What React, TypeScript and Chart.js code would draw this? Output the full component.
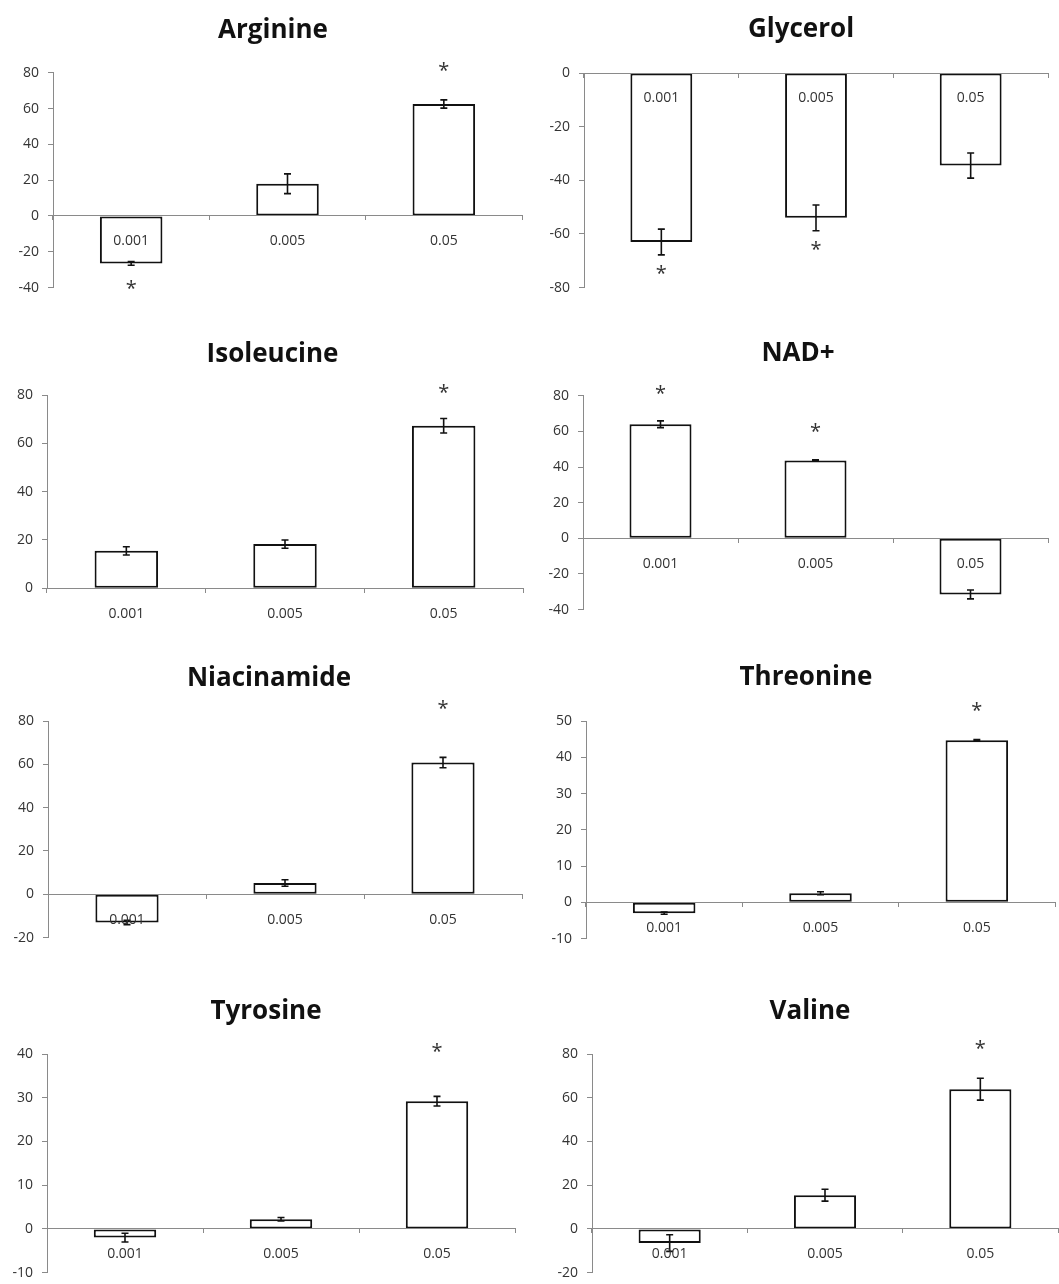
import React, { useEffect, useRef } from 'react';
import { Chart, registerables } from 'chart.js';

Chart.register(...registerables);

// ---------- DATA ----------
const categories = ['0.001', '0.005', '0.05'];

const arginineValues = [-26.5, 18, 62.5];
const arginineErrors = [1, 5.5, 2.3];
const arginineStars = [-37.5, null, 84];

const glycerolValues = [-63, -54, -34.5];
const glycerolErrors = [4.8, 4.8, 4.7];
const glycerolStars = [-73, -64, null];

const isoleucineValues = [15.5, 18.3, 67.3];
const isoleucineErrors = [1.7, 1.7, 3];
const isoleucineStars = [null, null, 83];

const nadValues = [64, 43.7, -31.5];
const nadErrors = [1.9, 0.3, 2.5];
const nadStars = [84.3, 63, null];

const niacinamideValues = [-13, 5.2, 60.8];
const niacinamideErrors = [1, 1.5, 2.4];
const niacinamideStars = [null, null, 88];

const threonineValues = [-3, 2.5, 44.7];
const threonineErrors = [0.3, 0.4, 0.2];
const threonineStars = [null, null, 54.4];

const tyrosineValues = [-2, 2.2, 29.2];
const tyrosineErrors = [1, 0.4, 1.1];
const tyrosineStars = [null, null, 41.8];

const valineValues = [-6.5, 15.4, 63.9];
const valineErrors = [3.8, 2.7, 5];
const valineStars = [null, null, 84.7];

// ---------- STYLE / LAYOUT ----------
const AXIS_COLOR = '#8a8a8a';
const TICK_COLOR = '#333333';
const FONT = "'Open Sans', 'Noto Sans', sans-serif";
const TITLE_SIZE = 26;
const STAR_SIZE = 20;

type Layout = {
  left: number; top: number; width: number;
  axisX: number; plotRight: number; titleX: number; titleMid: number;
  chartTop: number; chartBottom: number;
};

type Panel = {
  title: string; values: number[]; errors: number[]; stars: (number | null)[];
  min: number; max: number; step: number; layout: Layout;
};

const panels: Panel[] = [
  { title: 'Arginine', values: arginineValues, errors: arginineErrors, stars: arginineStars, min: -40, max: 80, step: 20,
    layout: { left: 0, top: 0, width: 530, axisX: 53, plotRight: 522, titleX: 273, titleMid: 30.3, chartTop: 72.7, chartBottom: 291 } },
  { title: 'Glycerol', values: glycerolValues, errors: glycerolErrors, stars: glycerolStars, min: -80, max: 0, step: 20,
    layout: { left: 530, top: 0, width: 529, axisX: 584, plotRight: 1048, titleX: 801, titleMid: 30, chartTop: 73, chartBottom: 291 } },
  { title: 'Isoleucine', values: isoleucineValues, errors: isoleucineErrors, stars: isoleucineStars, min: 0, max: 80, step: 20,
    layout: { left: 0, top: 315, width: 530, axisX: 47, plotRight: 523, titleX: 272.5, titleMid: 354.5, chartTop: 395, chartBottom: 588.3 } },
  { title: 'NAD+', values: nadValues, errors: nadErrors, stars: nadStars, min: -40, max: 80, step: 20,
    layout: { left: 530, top: 315, width: 529, axisX: 583, plotRight: 1048, titleX: 798, titleMid: 354, chartTop: 395.7, chartBottom: 612.7 } },
  { title: 'Niacinamide', values: niacinamideValues, errors: niacinamideErrors, stars: niacinamideStars, min: -20, max: 80, step: 20,
    layout: { left: 0, top: 635, width: 530, axisX: 48, plotRight: 522, titleX: 269, titleMid: 679, chartTop: 721, chartBottom: 941 } },
  { title: 'Threonine', values: threonineValues, errors: threonineErrors, stars: threonineStars, min: -10, max: 50, step: 10,
    layout: { left: 530, top: 635, width: 529, axisX: 586, plotRight: 1055, titleX: 806, titleMid: 678, chartTop: 721, chartBottom: 941.7 } },
  { title: 'Tyrosine', values: tyrosineValues, errors: tyrosineErrors, stars: tyrosineStars, min: -10, max: 40, step: 10,
    layout: { left: 0, top: 965, width: 530, axisX: 47, plotRight: 515, titleX: 266, titleMid: 1011.5, chartTop: 1054, chartBottom: 1275.7 } },
  { title: 'Valine', values: valineValues, errors: valineErrors, stars: valineStars, min: -20, max: 80, step: 20,
    layout: { left: 530, top: 965, width: 529, axisX: 592, plotRight: 1058, titleX: 810, titleMid: 1011.5, chartTop: 1054, chartBottom: 1275.3 } },
];

function computeGeometry(p: Panel) {
  const L = p.layout;
  const zeroY = L.chartBottom - ((0 - p.min) / (p.max - p.min)) * (L.chartBottom - L.chartTop);
  const padBottom = Math.max(14, zeroY + 40 - L.chartBottom);
  const height = Math.ceil(L.chartBottom + padBottom - L.top);
  const padBottomExact = L.top + height - L.chartBottom;
  const padTop = L.chartTop - L.top;
  const padRight = L.left + L.width - L.plotRight;
  const axisW = L.axisX - L.left;
  return { height, padBottom: padBottomExact, padTop, padRight, axisW };
}

function PanelChart({ p }: { p: Panel }) {
  const ref = useRef<HTMLCanvasElement>(null);
  const g = computeGeometry(p);
  const L = p.layout;

  useEffect(() => {
    if (!ref.current) return;

    const panelTitle = {
      id: 'panelTitle',
      afterDraw(chart: any) {
        const { ctx } = chart;
        ctx.save();
        ctx.font = `bold ${TITLE_SIZE}px ${FONT}`;
        ctx.fillStyle = '#111111';
        ctx.textAlign = 'center';
        ctx.textBaseline = 'middle';
        ctx.fillText(p.title, L.titleX - L.left, L.titleMid - L.top);
        ctx.restore();
      },
    };

    const errorBars = {
      id: 'errorBars',
      afterDatasetsDraw(chart: any) {
        const { ctx } = chart;
        const y = chart.scales.y;
        const meta = chart.getDatasetMeta(0);
        const cap = 3.5;
        ctx.save();
        ctx.strokeStyle = '#111';
        ctx.lineWidth = 1.6;
        meta.data.forEach((bar: any, i: number) => {
          const v = p.values[i];
          const e = p.errors[i];
          const x = bar.x;
          const yt = y.getPixelForValue(v + e);
          const yb = y.getPixelForValue(v - e);
          ctx.beginPath();
          ctx.moveTo(x, yt); ctx.lineTo(x, yb);
          ctx.moveTo(x - cap, yt); ctx.lineTo(x + cap, yt);
          ctx.moveTo(x - cap, yb); ctx.lineTo(x + cap, yb);
          ctx.stroke();
        });
        ctx.restore();
      },
    };

    const stars = {
      id: 'stars',
      afterDraw(chart: any) {
        const { ctx } = chart;
        const y = chart.scales.y;
        const meta = chart.getDatasetMeta(0);
        ctx.save();
        ctx.fillStyle = '#333';
        ctx.font = `${STAR_SIZE}px ${FONT}`;
        ctx.textAlign = 'center';
        ctx.textBaseline = 'alphabetic';
        meta.data.forEach((bar: any, i: number) => {
          const s = p.stars[i];
          if (s === null || s === undefined) return;
          const yc = y.getPixelForValue(s);
          ctx.fillText('*', bar.x, yc + STAR_SIZE * 0.58);
        });
        ctx.restore();
      },
    };

    const tickFont = { family: FONT, size: 14 };

    const chart = new Chart(ref.current, {
      type: 'bar',
      data: {
        labels: categories,
        datasets: [
          {
            data: p.values,
            backgroundColor: '#ffffff',
            borderColor: '#111111',
            borderWidth: 2,
            borderSkipped: false,
            barPercentage: 0.4,
            categoryPercentage: 1,
          },
        ],
      },
      options: {
        animation: false,
        responsive: false,
        devicePixelRatio: 1,
        events: [],
        layout: { padding: { top: g.padTop, bottom: g.padBottom, left: 0, right: g.padRight } },
        plugins: {
          legend: { display: false },
          tooltip: { enabled: false },
          title: { display: false },
        },
        scales: {
          x: {
            type: 'category',
            position: { y: 0 } as any,
            offset: true,
            grid: {
              display: true,
              drawOnChartArea: false,
              drawTicks: true,
              tickLength: 4,
              color: AXIS_COLOR,
              offset: true,
              z: 1,
            },
            border: { display: true, color: AXIS_COLOR, width: 1, z: 1 },
            ticks: { padding: 13, font: tickFont, color: TICK_COLOR, maxRotation: 0, autoSkip: false, z: 1 },
          },
          y: {
            type: 'linear',
            min: p.min,
            max: p.max,
            grid: {
              display: true,
              drawOnChartArea: false,
              drawTicks: true,
              tickLength: 5,
              color: AXIS_COLOR,
            },
            border: { display: true, color: AXIS_COLOR, width: 1 },
            ticks: { stepSize: p.step, padding: 9, font: tickFont, color: TICK_COLOR },
            afterFit: (scale: any) => { scale.width = g.axisW; },
          },
        },
      },
      plugins: [errorBars, stars, panelTitle],
    } as any);

    return () => chart.destroy();
  }, []);

  return (
    <canvas
      ref={ref}
      width={L.width}
      height={g.height}
      style={{ position: 'absolute', left: L.left, top: L.top, width: L.width, height: g.height, display: 'block' }}
    />
  );
}

export default function App() {
  return (
    <div
      style={{
        position: 'absolute',
        left: 0,
        top: 0,
        width: 1059,
        height: 1284,
        overflow: 'hidden',
        background: '#ffffff',
      }}
    >
      {panels.map((p) => (
        <PanelChart key={p.title} p={p} />
      ))}
    </div>
  );
}
